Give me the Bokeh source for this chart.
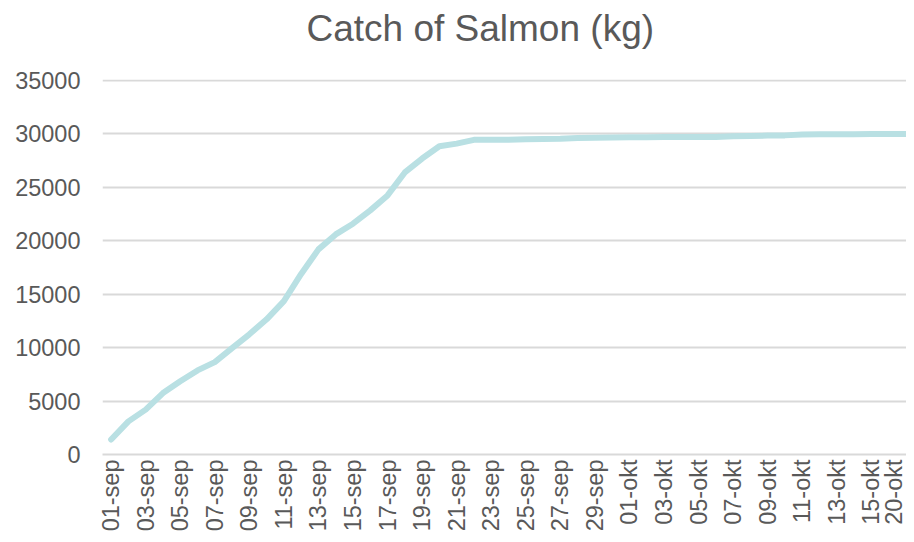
import math
from bokeh.plotting import figure
from bokeh.models import ColumnDataSource, Range1d, FixedTicker, Title
from bokeh.embed import file_html
from bokeh.resources import INLINE

# ---- data ----
dates = ([f"{d:02d}-sep" for d in range(1, 31)] +
         [f"{d:02d}-okt" for d in range(1, 16)] +
         ["18-okt", "20-okt"])

catch_kg = [1400, 3100, 4200, 5750, 6850, 7870, 8650, 9950, 11250, 12650,
            14350, 16900, 19200, 20600, 21600, 22850, 24250, 26400, 27700, 28850,
            29100, 29450, 29450, 29450, 29500, 29520, 29550, 29620, 29650, 29680,
            29700, 29700, 29710, 29710, 29720, 29720, 29780, 29820, 29850, 29870,
            29950, 29970, 29980, 29980, 29990, 30000, 30000]

y_ticks = [0, 5000, 10000, 15000, 20000, 25000, 30000, 35000]

title_text = "Catch of Salmon (kg)"

# ---- styles ----
TEXT = "#595959"
GRID = "#D9D9D9"
LINE = "#B9E0E3"
FONT = "Liberation Sans"

idx = list(range(len(dates)))
source = ColumnDataSource(dict(pos=idx, date=dates, kg=catch_kg))

p = figure(width=906, height=534,
           x_range=Range1d(-0.5, len(dates) - 0.5 - 0.46),
           y_range=Range1d(0, 35100),
           output_backend="svg", toolbar_location=None,
           min_border_left=102, min_border_right=0,
           min_border_top=79, min_border_bottom=79)

p.line(x="pos", y="kg", source=source, line_width=6, line_color=LINE,
       line_join="round", line_cap="round")

# spacer between frame and title, then the title itself
spacer = Title(text=" ", text_font_size="1px", standoff=28)
p.add_layout(spacer, "above")
main_title = Title(text=title_text, text_font=FONT, text_font_size="37px",
                   text_font_style="normal", text_color=TEXT,
                   align="left", offset=204, standoff=0, vertical_align="bottom")
p.add_layout(main_title, "above")

p.outline_line_color = None
p.background_fill_color = "white"
p.border_fill_color = "white"

# grids
p.xgrid.grid_line_color = None
p.ygrid.grid_line_color = GRID
p.ygrid.grid_line_width = 2
p.yaxis.ticker = FixedTicker(ticks=y_ticks)

# y axis
p.yaxis.axis_line_color = None
p.yaxis.major_tick_line_color = None
p.yaxis.minor_tick_line_color = None
p.yaxis.major_tick_out = 0
p.yaxis.major_tick_in = 0
p.yaxis.major_label_standoff = 22
p.yaxis.major_label_text_font = FONT
p.yaxis.major_label_text_font_size = "23.5px"
p.yaxis.major_label_text_color = TEXT

# x axis
shown = [i for i in idx if i % 2 == 0]
p.xaxis.ticker = FixedTicker(ticks=shown)
p.xaxis.major_label_overrides = {i: dates[i] for i in shown}
p.xaxis.axis_line_color = GRID
p.xaxis.axis_line_width = 2
p.xaxis.major_tick_line_color = None
p.xaxis.minor_tick_line_color = None
p.xaxis.major_tick_out = 0
p.xaxis.major_tick_in = 0
p.xaxis.major_label_standoff = 5
p.xaxis.major_label_orientation = math.pi / 2
p.xaxis.major_label_text_font = FONT
p.xaxis.major_label_text_font_size = "23.5px"
p.xaxis.major_label_text_color = TEXT

open("out.html", "w").write(file_html(p, INLINE))
